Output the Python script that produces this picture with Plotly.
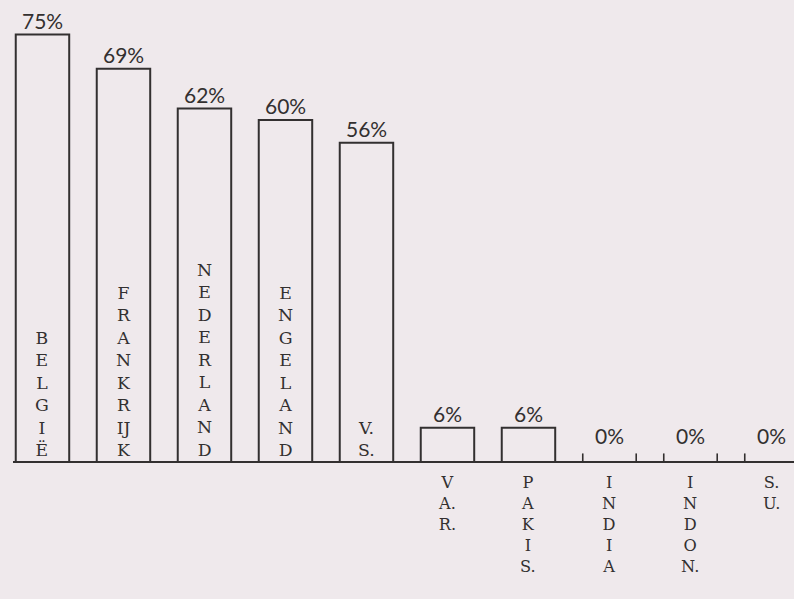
import plotly.graph_objects as go

# ---- data ----
countries = ["BELGIË", "FRANKRIJK", "NEDERLAND", "ENGELAND", "V.S.",
             "V.A.R.", "PAKIS.", "INDIA", "INDON.", "S.U."]
label_lines = [
    ["B", "E", "L", "G", "I", "Ë"],
    ["F", "R", "A", "N", "K", "R", "IJ", "K"],
    ["N", "E", "D", "E", "R", "L", "A", "N", "D"],
    ["E", "N", "G", "E", "L", "A", "N", "D"],
    ["V.", "S."],
    ["V", "A.", "R."],
    ["P", "A", "K", "I", "S."],
    ["I", "N", "D", "I", "A"],
    ["I", "N", "D", "O", "N."],
    ["S.", "U."],
]
values = [75, 69, 62, 60, 56, 6, 6, 0, 0, 0]
value_labels = ["75%", "69%", "62%", "60%", "56%", "6%", "6%", "0%", "0%", "0%"]

# ---- style ----
BG = "#efe9ec"
INK = "#333030"
BAR_W = 0.66
TICK_H = 1.5
SIZE_IN = 17.3    # plotly line step = 1.3 * size  -> ~22.5 px
SIZE_OUT = 16.2   # -> ~21 px

xs = list(range(len(countries)))

fig = go.Figure()
fig.add_trace(go.Bar(
    x=xs, y=values, width=BAR_W,
    marker=dict(color="rgba(0,0,0,0)", line=dict(color=INK, width=2)),
    hoverinfo="skip", showlegend=False,
))

# small end ticks for zero-valued bars
tx, ty = [], []
for i, v in zip(xs, values):
    if v == 0:
        for side in (-BAR_W / 2, BAR_W / 2):
            tx += [i + side, i + side, None]
            ty += [0, TICK_H, None]
fig.add_trace(go.Scatter(x=tx, y=ty, mode="lines",
                         line=dict(color=INK, width=1.6),
                         hoverinfo="skip", showlegend=False))

annotations = []
for i, v, lab, lines in zip(xs, values, value_labels, label_lines):
    annotations.append(dict(
        x=i, y=v, text=lab, showarrow=False, xanchor="center", yanchor="middle",
        yshift=14 if v > 0 else 26,
        font=dict(family="Lato", size=21, color=INK),
    ))
    inside = v >= 20
    n = len(lines)
    size = SIZE_IN if inside else SIZE_OUT
    step = 1.3 * size
    if inside:
        shift = 12 + step * (n - 1) / 2
    else:
        shift = -20 - step * (n - 1) / 2
    annotations.append(dict(
        x=i, y=0, text="<br>".join(lines), showarrow=False, xanchor="center",
        yanchor="middle", yshift=shift, align="center",
        font=dict(family="DejaVu Serif", size=size, color=INK),
    ))

fig.update_layout(
    width=794, height=599,
    margin=dict(l=13, r=0, t=0, b=0, pad=0),
    paper_bgcolor=BG, plot_bgcolor=BG,
    annotations=annotations,
    xaxis=dict(range=[-0.364, 9.278], showgrid=False, zeroline=False,
               showticklabels=False, ticks="", showline=False, fixedrange=True),
    yaxis=dict(range=[-24.04, 81.05], showgrid=False, zeroline=True,
               zerolinecolor=INK, zerolinewidth=2, showticklabels=False,
               ticks="", showline=False, fixedrange=True),
    bargap=0,
)

fig.write_html("out.html",
               config={"displayModeBar": False, "staticPlot": True},
               post_script="document.body.style.margin='0px';"
                           "document.body.style.background='%s';" % BG)
